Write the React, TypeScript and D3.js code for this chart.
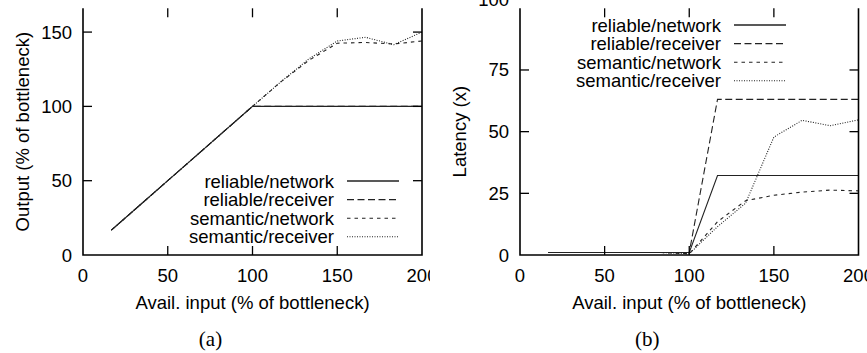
import React from "react";
import * as d3 from "d3";

const inputs = [16.7, 33.3, 50, 66.7, 83.3, 100, 116.7, 133.3, 150, 166.7, 183.3, 200];
const seriesNames = ["reliable/network", "reliable/receiver", "semantic/network", "semantic/receiver"];

const outReliableNetwork = [16.7, 33.3, 50, 66.7, 83.3, 100, 100, 100, 100, 100, 100, 100];
const outReliableReceiver = [16.7, 33.3, 50, 66.7, 83.3, 100, 100, 100, 100, 100, 100, 100];
const outSemanticNetwork = [16.7, 33.3, 50, 66.7, 83.3, 100, 116.5, 131, 142.5, 143, 142, 144];
const outSemanticReceiver = [16.7, 33.3, 50, 66.7, 83.3, 100, 116.5, 132, 144, 146.5, 141.5, 150];

const latReliableNetwork = [1, 1, 1, 1, 1, 1, 32.2, 32.2, 32.2, 32.2, 32.2, 32.2];
const latReliableReceiver = [1, 1, 1, 1, 1, 1, 63.1, 63.1, 63.1, 63.1, 63.1, 63.1];
const latSemanticNetwork = [1, 1, 1, 1, 1, 0.5, 13.5, 22, 24.2, 25.5, 26.3, 26];
const latSemanticReceiver = [1, 1, 1, 1, 1, 0.5, 11.5, 21, 47.8, 54.6, 52.4, 54.8];

const xTicks = [0, 50, 100, 150, 200];
const yTicksA = [0, 50, 100, 150];
const yTicksB = [0, 25, 50, 75, 100];

const dashes = ["none", "7,3.5", "3.5,4", "1,1.5"];

const FONT = "'Liberation Sans', Arial, Helvetica, sans-serif";

type PanelProps = {
  left: number;
  right: number;
  top: number;
  bottom: number;
  yDomainMax: number;
  yTicks: number[];
  series: number[][];
  yTitle: string;
  legendX: number;
  legendY: number;
  caption: string;
  clipId: string;
  clipRight: number;
};

function Panel(p: PanelProps) {
  const x = d3.scaleLinear().domain([0, 200]).range([p.left, p.right]);
  const y = d3.scaleLinear().domain([0, p.yDomainMax]).range([p.bottom, p.top]);
  const line = d3
    .line<[number, number]>()
    .x((d) => x(d[0]))
    .y((d) => y(d[1]));
  const tick = 9;
  const rowH = 18.6;
  const fs = 18.5;
  const midY = (p.top + p.bottom) / 2;
  return (
    <g clipPath={`url(#${p.clipId})`}>
      <defs>
        <clipPath id={p.clipId}>
          <rect x={p.left - 100} y={-20} width={p.clipRight - (p.left - 100)} height={400} />
        </clipPath>
      </defs>
      {p.series.map((vals, i) => (
        <path
          key={i}
          d={line(inputs.map((v, j) => [v, vals[j]] as [number, number])) || ""}
          fill="none"
          stroke="#222"
          strokeWidth={1.1}
          strokeDasharray={dashes[i]}
        />
      ))}
      <path
        d={`M${p.left},${p.top}V${p.bottom}H${p.right}V${p.top}`}
        fill="none"
        stroke="#000"
        strokeWidth={1.6}
      />
      {xTicks.map((t) => (
        <g key={"x" + t}>
          {t > 0 && t < 200 && (
            <>
              <line x1={x(t)} x2={x(t)} y1={p.bottom} y2={p.bottom - tick} stroke="#000" strokeWidth={1.3} />
              <line x1={x(t)} x2={x(t)} y1={p.top} y2={p.top + tick} stroke="#000" strokeWidth={1.3} />
            </>
          )}
          <text x={x(t)} y={275} textAnchor="middle" dominantBaseline="central" fontFamily={FONT} fontSize={fs} fill="#000">
            {t}
          </text>
        </g>
      ))}
      {p.yTicks.map((t) => {
        const atTop = t >= p.yDomainMax - 1e-9;
        return (
          <g key={"y" + t}>
            {t > 0 && !atTop && (
              <>
                <line x1={p.left} x2={p.left + tick} y1={y(t)} y2={y(t)} stroke="#000" strokeWidth={1.3} />
                <line x1={p.right} x2={p.right - tick} y1={y(t)} y2={y(t)} stroke="#000" strokeWidth={1.3} />
              </>
            )}
            <text
              x={p.left - 11}
              y={atTop ? y(t) - 8.5 : y(t)}
              textAnchor="end"
              dominantBaseline="central"
              fontFamily={FONT}
              fontSize={fs}
              fill="#000"
            >
              {t}
            </text>
          </g>
        );
      })}
      <text
        x={(p.left + p.right) / 2}
        y={302}
        textAnchor="middle"
        dominantBaseline="central"
        fontFamily={FONT}
        fontSize={fs}
        fill="#000"
      >
        Avail. input (% of bottleneck)
      </text>
      <text
        transform={`translate(${p.left - 61},${midY}) rotate(-90)`}
        textAnchor="middle"
        dominantBaseline="central"
        fontFamily={FONT}
        fontSize={fs}
        fill="#000"
      >
        {p.yTitle}
      </text>
      {seriesNames.map((name, i) => (
        <g key={name}>
          <text
            x={p.legendX}
            y={p.legendY + i * rowH}
            textAnchor="end"
            dominantBaseline="central"
            fontFamily={FONT}
            fontSize={fs}
            fill="#000"
          >
            {name}
          </text>
          <line
            x1={p.legendX + 13}
            x2={p.legendX + 65}
            y1={p.legendY + i * rowH}
            y2={p.legendY + i * rowH}
            stroke="#222"
            strokeWidth={i === 0 ? 1.6 : 1.1}
            strokeDasharray={dashes[i]}
          />
        </g>
      ))}
      <text
        x={(p.left + p.right) / 2 - 42}
        y={339}
        textAnchor="middle"
        dominantBaseline="central"
        fontFamily="'Liberation Serif', 'Times New Roman', serif"
        fontSize={21}
        fill="#000"
      >
        {p.caption}
      </text>
    </g>
  );
}

export default function App() {
  return (
    <svg
      width={867}
      height={353}
      style={{ position: "absolute", left: 0, top: 0, background: "#fff" }}
    >
      <rect width={867} height={353} fill="#fff" />
      <Panel
        left={83}
        right={422}
        top={8.3}
        bottom={255}
        yDomainMax={166}
        yTicks={yTicksA}
        series={[outReliableNetwork, outReliableReceiver, outSemanticNetwork, outSemanticReceiver]}
        yTitle="Output (% of bottleneck)"
        legendX={334}
        legendY={181}
        caption="(a)"
        clipId="clipA"
        clipRight={430}
      />
      <Panel
        left={520}
        right={858.5}
        top={8.3}
        bottom={255}
        yDomainMax={100}
        yTicks={yTicksB}
        series={[latReliableNetwork, latReliableReceiver, latSemanticNetwork, latSemanticReceiver]}
        yTitle="Latency (x)"
        legendX={721}
        legendY={25}
        caption="(b)"
        clipId="clipB"
        clipRight={867}
      />
    </svg>
  );
}
